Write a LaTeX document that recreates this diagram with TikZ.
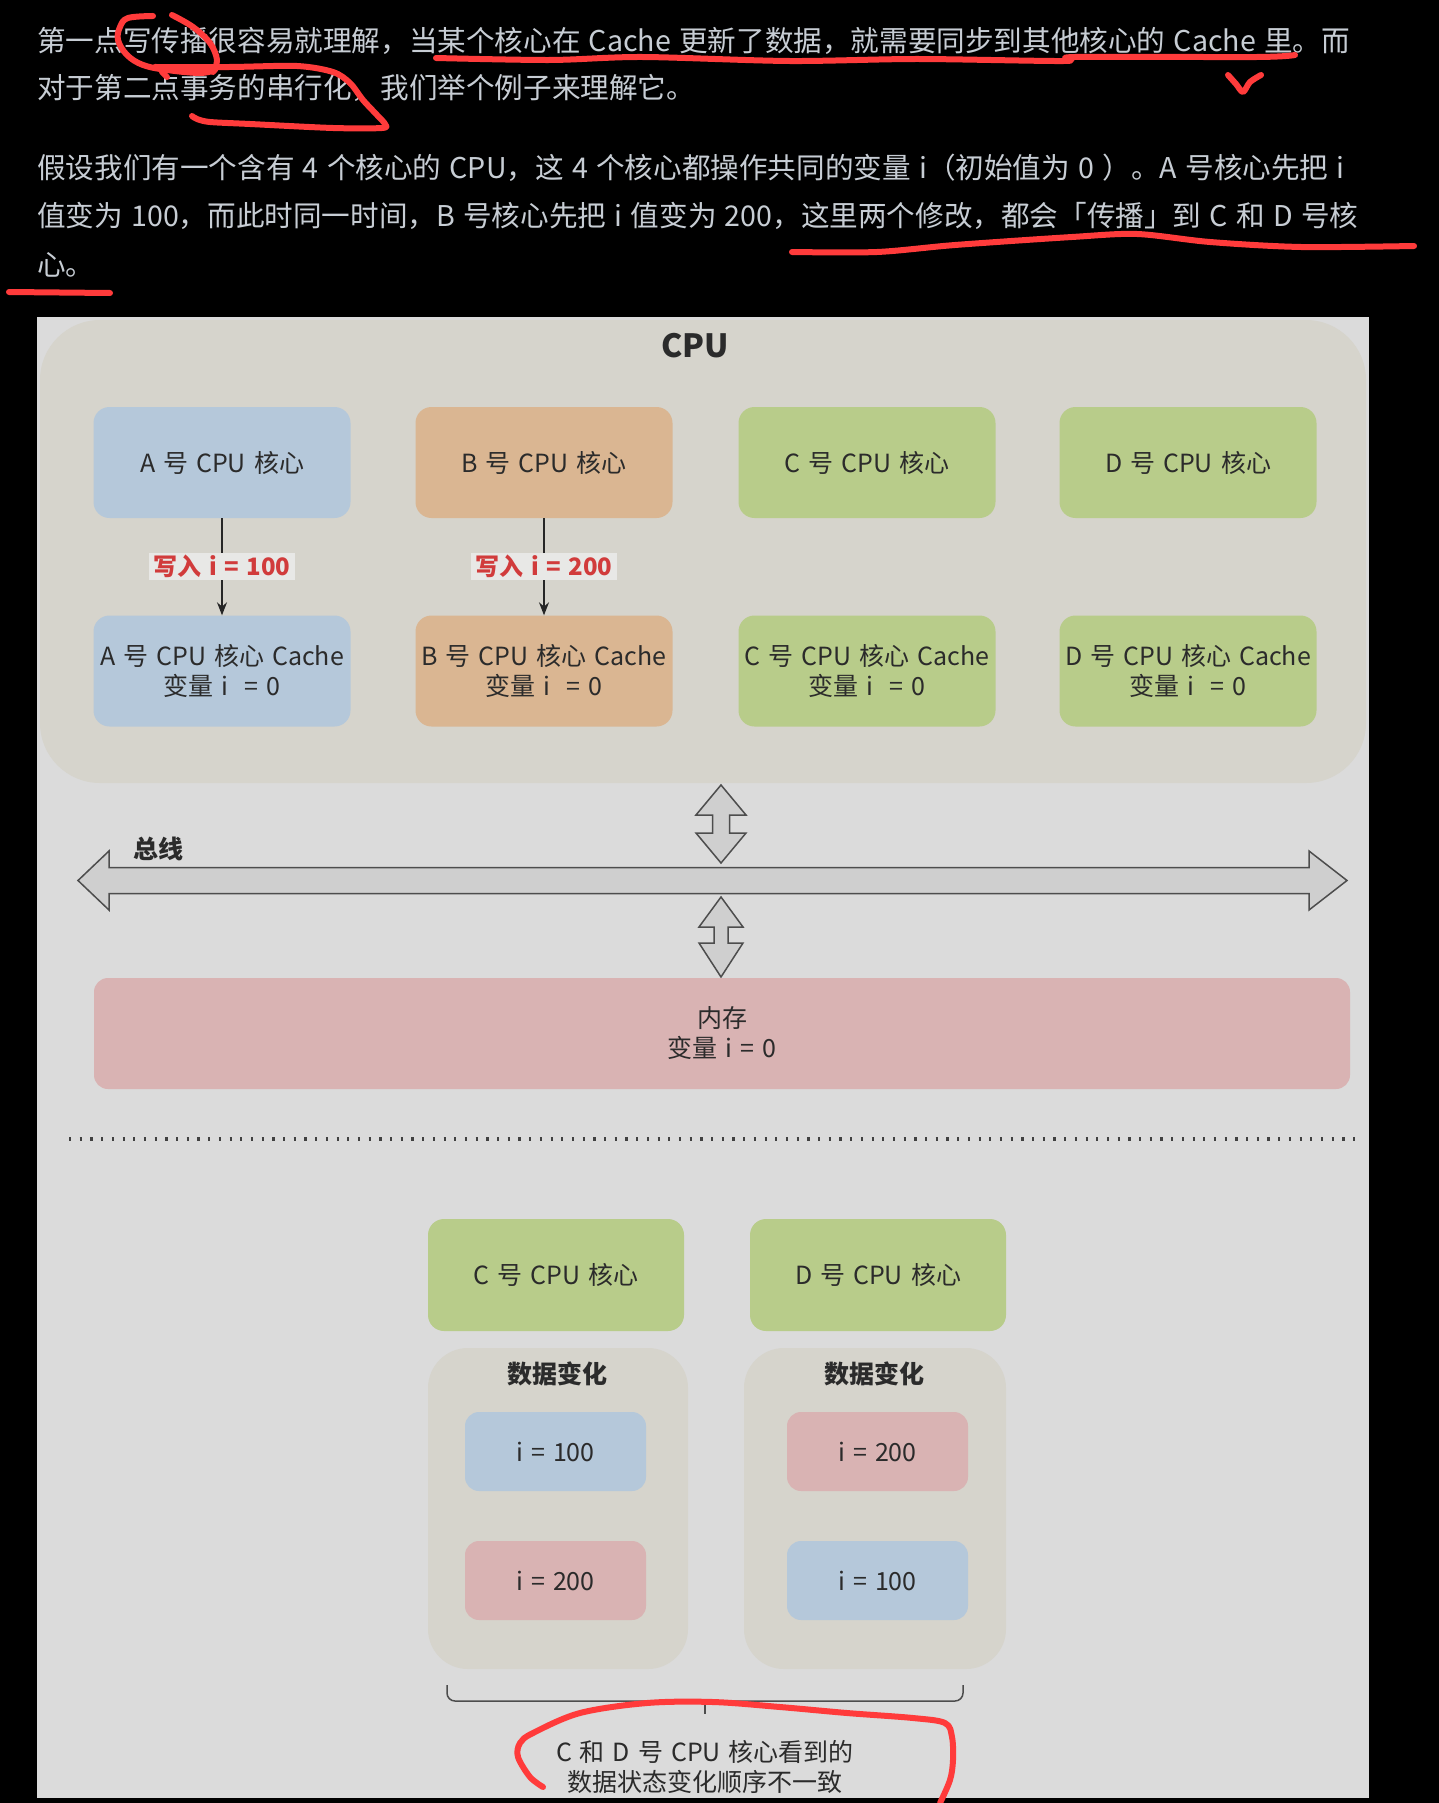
\documentclass[tikz,border=0pt]{standalone}
\usepackage{fontspec}
\setmainfont{Noto Sans CJK SC}
\usetikzlibrary{arrows.meta}

\definecolor{panelbg}{HTML}{DBDBDB}
\definecolor{cpubg}{HTML}{D6D4CC}
\definecolor{blueA}{HTML}{B5C8DA}
\definecolor{orangeB}{HTML}{DAB692}
\definecolor{greenC}{HTML}{B8CC8A}
\definecolor{pinkM}{HTML}{D9B3B3}
\definecolor{busfill}{HTML}{CFCFCF}
\definecolor{busline}{HTML}{4D4D4D}
\definecolor{labelbg}{HTML}{E8E8E6}
\definecolor{labelred}{HTML}{D13B3B}
\definecolor{textdark}{HTML}{2B2B2B}
\definecolor{toptext}{HTML}{C7CDD4}
\definecolor{penred}{HTML}{FF3B3B}

% font size in px-sized points, with a slightly wider word space
\newcommand{\pxfont}[2]{\fontsize{#1}{#2}\selectfont\spaceskip 0.32em\relax}
\newcommand{\parafont}{\fontsize{28.6}{34}\selectfont\spaceskip 0.29em\relax}
\newcommand{\lblfont}{\bfseries\fontsize{24}{28}\selectfont\spaceskip 0.32em\relax}

\tikzset{
  para/.style={anchor=west, inner sep=0pt, text=toptext, font=\parafont},
  corebox/.style={rounded corners=16pt, minimum width=257pt, minimum height=111pt,
    inner sep=0pt, align=center, text=textdark, font=\pxfont{25}{30}},
  smallbox/.style={rounded corners=14pt, minimum width=181pt, minimum height=79pt,
    inner sep=0pt, text=textdark, font=\pxfont{25}{30}},
  groupbox/.style={rounded corners=40pt, inner sep=0pt},
  wlabel/.style={fill=labelbg, text=labelred, inner xsep=4pt, inner ysep=2pt, font=\lblfont},
  conn/.style={draw=black!85, line width=1.3pt, -{Stealth[length=13pt,width=10pt]}},
  blockarrow/.style={draw=busline, fill=busfill, line width=1.5pt, line join=miter},
  plain/.style={inner sep=0pt, text=textdark, align=center, font=\pxfont{25}{30}},
  heading/.style={inner sep=0pt, text=textdark, font=\bfseries\pxfont{25}{30}},
  penmark/.style={draw=penred, line width=6pt, line cap=round, line join=round}
}

\begin{document}
\begin{tikzpicture}[x=1pt,y=-1pt]
\useasboundingbox (0,0) rectangle (1439,1803);
\fill[black] (0,0) rectangle (1439,1803);

% article text above the figure
\node[para] (p1) at (37,41) {第一点写传播很容易就理解，当某个核心在 Cache 更新了数据，就需要同步到其他核心的 Cache 里。而};
\node[para] (p2) at (37,88) {对于第二点事务的串行化，我们举个例子来理解它。};
\node[para] (p3) at (37,168) {假设我们有一个含有 4 个核心的 CPU，这 4 个核心都操作共同的变量 i（初始值为 0 ）。A 号核心先把 i};
\node[para] (p4) at (37,216) {值变为 100，而此时同一时间，B 号核心先把 i 值变为 200，这里两个修改，都会「传播」到 C 和 D 号核};
\node[para] (p5) at (37,265) {心。};

% figure background
\fill[panelbg] (37,317) rectangle (1369,1798);

% CPU package
\node[groupbox, rounded corners=60pt, fill=cpubg, minimum width=1326pt, minimum height=463pt] (cpu) at (703,551.5) {};
\node[inner sep=0pt, text=textdark, font=\bfseries\fontsize{32}{36}\selectfont] (cputitle) at (695,346) {CPU};

% cores and their caches
\node[corebox, fill=blueA]   (coreA) at (222,462.5) {A 号 CPU 核心};
\node[corebox, fill=orangeB] (coreB) at (544,462.5) {B 号 CPU 核心};
\node[corebox, fill=greenC]  (coreC) at (867,462.5) {C 号 CPU 核心};
\node[corebox, fill=greenC]  (coreD) at (1188,462.5) {D 号 CPU 核心};

\node[corebox, fill=blueA]   (cacheA) at (222,671) {A 号 CPU 核心 Cache\\变量 i \ = 0};
\node[corebox, fill=orangeB] (cacheB) at (544,671) {B 号 CPU 核心 Cache\\变量 i \ = 0};
\node[corebox, fill=greenC]  (cacheC) at (867,671) {C 号 CPU 核心 Cache\\变量 i \ = 0};
\node[corebox, fill=greenC]  (cacheD) at (1188,671) {D 号 CPU 核心 Cache\\变量 i \ = 0};

\draw[conn] (coreA) -- node[wlabel] {写入 i = 100} (cacheA);
\draw[conn] (coreB) -- node[wlabel] {写入 i = 200} (cacheB);

% bus with its links to the CPU and to memory
\draw[blockarrow] (721,785) -- (746,815) -- (729.5,815) -- (729.5,833) -- (746,833) -- (721,863)
  -- (696,833) -- (712.5,833) -- (712.5,815) -- (696,815) -- cycle;
\draw[blockarrow] (78,880.5) -- (109,851) -- (109,867.5) -- (1309,867.5) -- (1309,851) -- (1347,880.5)
  -- (1309,910) -- (1309,893.5) -- (109,893.5) -- (109,910) -- cycle;
\draw[blockarrow] (721,897) -- (743,927) -- (728,927) -- (728,943) -- (743,943) -- (721,977)
  -- (699,943) -- (714,943) -- (714,927) -- (699,927) -- cycle;
\node[heading] (buslabel) at (158,849) {总线};

% main memory
\node[corebox, fill=pinkM, rounded corners=14pt, minimum width=1256pt, minimum height=111pt] (mem) at (722,1033.5) {内存\\变量 i = 0};

% separator
\draw[draw=black!75, line width=3.5pt, dash pattern=on 2.2pt off 8.5pt] (69,1139) -- (1362,1139);

% what cores C and D observe
\node[corebox, fill=greenC, minimum width=256pt, minimum height=112pt] (obsC) at (556,1275) {C 号 CPU 核心};
\node[corebox, fill=greenC, minimum width=256pt, minimum height=112pt] (obsD) at (878,1275) {D 号 CPU 核心};

\node[groupbox, fill=cpubg, minimum width=260pt, minimum height=321pt] (seqC) at (558,1508.5) {};
\node[groupbox, fill=cpubg, minimum width=262pt, minimum height=321pt] (seqD) at (875,1508.5) {};
\node[heading] (seqCtitle) at (557,1374) {数据变化};
\node[heading] (seqDtitle) at (874,1374) {数据变化};

\node[smallbox, fill=blueA] (c1) at (555.5,1451.5) {i = 100};
\node[smallbox, fill=pinkM] (c2) at (555.5,1580.5) {i = 200};
\node[smallbox, fill=pinkM] (d1) at (877.5,1451.5) {i = 200};
\node[smallbox, fill=blueA] (d2) at (877.5,1580.5) {i = 100};

% bracket under both sequences
\coordinate (brL) at (447,1685);
\coordinate (brR) at (963,1685);
\coordinate (brM) at (705,1701);
\coordinate (brTip) at (705,1714);
\draw[draw=busline, line width=1.5pt] (brL) -- (447,1693) arc[start angle=180, end angle=270, radius=8pt]
  -- (955,1701) arc[start angle=270, end angle=360, radius=8pt] -- (brR);
\draw[draw=busline, line width=1.5pt] (brM) -- (brTip);
\node[plain] (verdict) at (705,1767) {C 和 D 号 CPU 核心看到的\\数据状态变化顺序不一致};

% hand-drawn red pen marks
\draw[penmark] plot[smooth, tension=0.6] coordinates {(153,16) (128,18) (120,27) (118,40) (127,55) (143,65) (167,70) (200,73) (215,70)};
\draw[penmark] plot[smooth, tension=0.6] coordinates {(172,15) (193,27) (210,43) (217,60) (213,72)};
\draw[penmark] (162,72) -- (167,77);
\draw[penmark] plot[smooth, tension=0.5] coordinates {(155,67) (230,67) (297,66) (333,72) (350,83) (363,100) (377,115) (385,124) (382,128) (333,128) (250,124) (210,122) (197,119) (192,116)};
\draw[penmark] plot[smooth, tension=0.5] coordinates {(436,58) (550,60) (642,57) (789,61) (917,59) (1064,61) (1075,57) (1257,57) (1295,55)};
\draw[penmark] plot[smooth, tension=0.5] coordinates {(1228,75) (1236,84) (1243,92) (1250,82) (1261,75)};
\draw[penmark] plot[smooth, tension=0.5] coordinates {(792,252) (877,252) (955,245) (1072,237) (1137,234) (1210,242) (1301,247) (1414,246)};
\draw[penmark] (9,292) -- (110,293);
\draw[penmark] plot[smooth, tension=0.55] coordinates {(543,1787) (530,1777) (518,1757) (520,1743) (533,1733) (580,1713) (647,1703) (713,1702) (780,1707) (847,1713) (913,1718) (945,1723) (952,1737) (953,1760) (950,1780) (940,1803)};
\end{tikzpicture}
\end{document}
